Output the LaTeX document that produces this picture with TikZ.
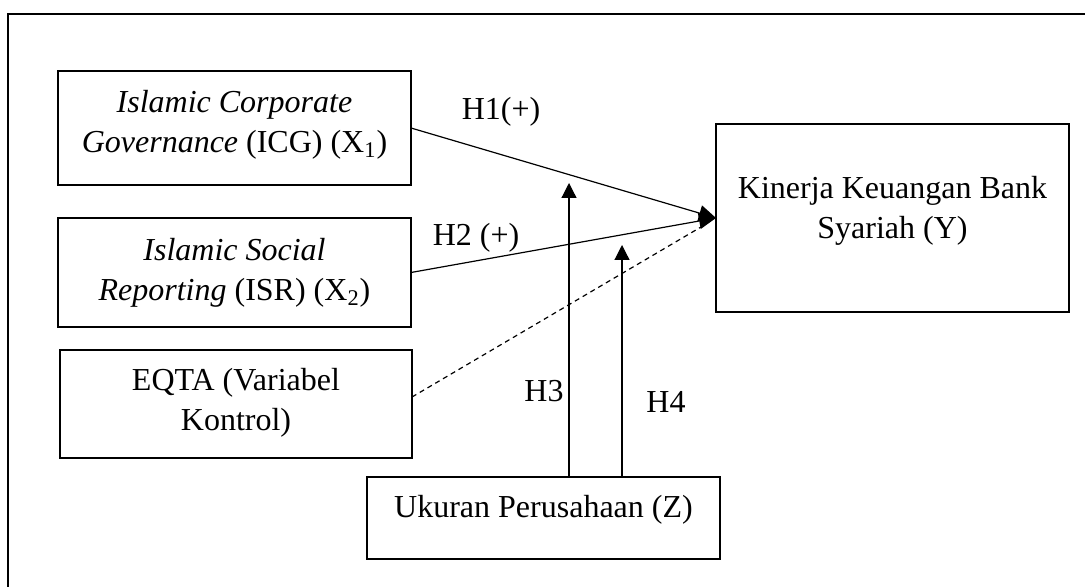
\documentclass[tikz,border=0pt]{standalone}
\usepackage{fontspec}
\setmainfont{Liberation Serif}
\usetikzlibrary{arrows.meta,calc}
\begin{document}
\begin{tikzpicture}[x=0.5pt,y=-0.5pt,
  box/.style={draw,line width=0.85pt,inner sep=0pt,outer sep=0pt,minimum width=176.5pt},
  txt/.style={align=center,inner sep=0pt,font=\fontsize{16pt}{20pt}\selectfont},
  lbl/.style={inner sep=0pt,font=\fontsize{16pt}{20pt}\selectfont},
  conn/.style={line width=0.6pt},
  arr/.style={conn,-{Triangle[length=7.5pt,width=7.5pt]}},
  arrY/.style={conn,-{Triangle[length=8.5pt,width=8pt]}},
  dashline/.style={line width=0.6pt,dash pattern=on 2.5pt off 2pt}]
\useasboundingbox (0,0) rectangle (1085,587);
\clip (0,0) rectangle (1085,587);
\draw[line width=1pt] (8,14) rectangle (1095,600);
% boxes
\node[box,minimum height=57pt] (icg) at (234.5,128) {};
\node[box,minimum height=54.5pt] (isr) at (234.5,272.5) {};
\node[box,minimum width=176pt,minimum height=54pt] (eqta) at (236,404) {};
\node[box,minimum height=41pt] (z) at (543.5,518) {};
\node[box,minimum height=94pt] (y) at (892.5,218) {};
% texts
\node[txt] (icgT) at ($(icg)+(0,-3)$) {\textit{Islamic Corporate}\\\textit{Governance} (ICG) (X\textsubscript{1})};
\node[txt] (isrT) at (isr) {\textit{Islamic Social}\\\textit{Reporting} (ISR) (X\textsubscript{2})};
\node[txt] (eqtaT) at ($(eqta)+(0,-1)$) {EQTA (Variabel\\Kontrol)};
\node[txt] (zT) at ($(z)+(0,-8)$) {Ukuran Perusahaan (Z)};
\node[txt] (yT) at ($(y)+(0,-7)$) {Kinerja Keuangan Bank\\Syariah (Y)};
% connectors
\draw[arrY] (icg.east) -- (y.west);
\draw[arrY] (isr.east) -- (y.west);
\coordinate (dashend) at ($(y.west)+(-15,9)$);
\draw[dashline] ($(eqta.east)+(0,-7)$) -- (dashend);
\coordinate (h3top) at (569,183);
\coordinate (h4top) at (622,245);
\draw[arr] (h3top |- z.north) -- (h3top);
\draw[arr] (h4top |- z.north) -- (h4top);
% labels
\node[lbl] (h1) at (501,112) {H1(+)};
\node[lbl] (h2) at (476,238) {H2 (+)};
\node[lbl] (h3) at (544,391) {H3};
\node[lbl] (h4) at (666,402) {H4};
\end{tikzpicture}
\end{document}
